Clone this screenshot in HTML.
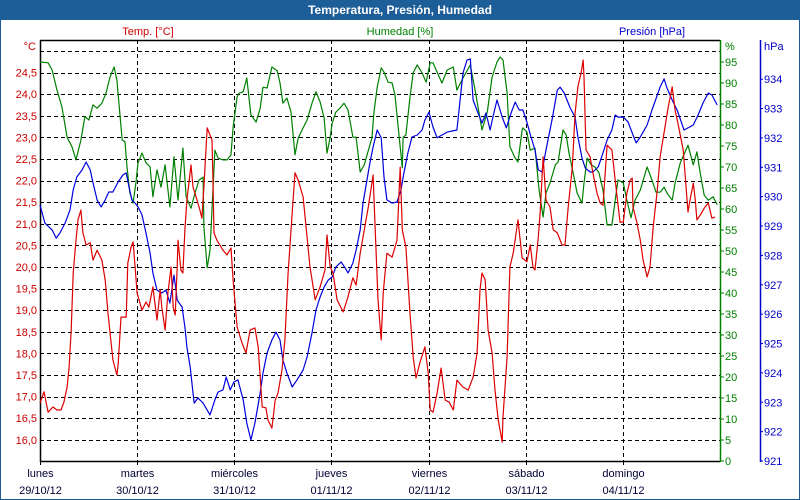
<!DOCTYPE html>
<html><head><meta charset="utf-8">
<style>
html,body{margin:0;padding:0;background:#fff;}
#wrap{position:relative;width:800px;height:500px;overflow:hidden;font-family:"Liberation Sans",sans-serif;}
svg text{font-family:"Liberation Sans",sans-serif;font-size:11px;}
</style></head>
<body>
<div id="wrap">
<svg id="chart" width="800" height="500" viewBox="0 0 800 500">
  <rect x="0" y="0" width="800" height="500" fill="#ffffff" stroke="#1b5c96" stroke-width="2"/>
  <rect x="0" y="0" width="800" height="20" fill="#1e5e98"/>
  <text x="400" y="14" text-anchor="middle" fill="#ffffff" font-weight="bold" style="font-size:12px">Temperatura, Presión, Humedad</text>
  <text x="148" y="35" text-anchor="middle" fill="#cc0000">Temp. [°C]</text>
  <text x="400" y="35" text-anchor="middle" fill="#008000">Humedad [%]</text>
  <text x="652" y="35" text-anchor="middle" fill="#0000cc">Presión [hPa]</text>
  <text x="36" y="50" text-anchor="end" fill="#cc0000">°C</text>
  <text x="725" y="50" fill="#008000">%</text>
  <text x="764" y="50" fill="#0000cc">hPa</text>
  <g id="grid"></g><g id="axes"></g><g id="series"></g>
</svg>
</div>
<script>
const dayNames = ["lunes","martes","miércoles","jueves","viernes","sábado","domingo"];
const dayDates = ["29/10/12","30/10/12","31/10/12","01/11/12","02/11/12","03/11/12","04/11/12"];
const tempTicks = [24.5,24.0,23.5,23.0,22.5,22.0,21.5,21.0,20.5,20.0,19.5,19.0,18.5,18.0,17.5,17.0,16.5,16.0];
const humTicks = [0,5,10,15,20,25,30,35,40,45,50,55,60,65,70,75,80,85,90,95];
const presTicks = [921,922,923,924,925,926,927,928,929,930,931,932,933,934];

const tempHours = [0,1.0,2.0,3.2,4.2,5.2,5.9,6.7,7.2,7.7,8.2,8.9,9.4,10.1,10.6,11.4,12.4,13.1,14.1,15.3,16.1,16.8,17.5,18.0,19.0,19.3,20.0,21.3,21.7,22.5,23.0,23.5,24.0,25.2,26.2,26.9,27.9,28.9,29.7,30.1,30.9,31.6,32.4,32.9,33.4,33.9,34.1,34.8,35.3,35.8,36.3,37.3,37.8,38.8,39.5,40.0,40.5,41.3,41.8,42.5,42.7,43.0,43.7,45.2,46.2,47.2,47.7,48.7,49.9,50.9,51.9,53.1,53.9,54.9,55.8,56.3,57.3,58.1,58.8,59.8,60.5,61.3,62.3,63.0,63.8,65.0,66.7,68.0,69.2,70.4,70.9,71.7,72.4,73.4,74.9,76.1,77.3,78.1,79.1,79.8,81.1,82.3,82.8,83.5,84.3,84.8,85.7,87.0,88.2,89.0,89.5,90.4,91.4,92.2,92.9,93.9,95.1,95.9,96.4,97.1,98.1,99.1,100.1,101.1,102.1,103.0,104.5,105.8,107.0,108.0,108.7,109.2,110.0,110.7,111.7,112.4,113.2,114.2,114.4,115.4,116.1,116.9,118.1,119.1,120.3,121.1,121.8,122.3,123.1,123.6,124.3,125.0,126.0,126.8,127.8,129.0,129.7,130.5,131.5,132.2,132.9,133.7,134.2,134.4,134.9,135.9,136.6,137.6,138.4,139.1,140.1,141.3,142.1,143.3,144.1,145.0,145.8,146.3,146.5,147.5,148.3,149.0,150.0,150.7,151.5,152.5,153.2,154.4,155.2,156.2,156.9,157.6,158.9,160.1,160.6,161.4,161.9,162.3,163.1,164.3,165.1,166.0,166.8];
const tempValues = [16.85,17.11,16.64,16.76,16.69,16.69,16.87,17.22,17.68,18.54,19.86,20.62,21.09,21.32,20.79,20.51,20.56,20.16,20.39,20.16,19.70,18.93,18.31,17.85,17.50,17.73,18.84,18.84,20.09,20.46,20.58,20.00,19.40,19.00,19.19,19.07,19.54,18.77,19.47,19.07,18.54,19.40,20.00,19.07,18.89,20.00,20.62,19.93,19.86,20.86,21.55,22.36,21.85,21.55,21.32,21.13,21.85,23.22,23.10,22.94,22.18,20.79,20.62,20.39,20.28,20.44,19.70,18.61,18.24,18.01,18.54,18.59,18.15,16.76,16.74,16.46,16.27,16.92,17.08,17.62,18.31,19.86,21.25,22.18,22.01,21.62,20.00,19.24,19.54,19.93,20.74,20.00,19.86,19.24,18.96,19.31,19.75,19.58,20.32,20.69,21.39,22.13,20.93,19.24,18.31,19.40,20.32,20.23,20.62,22.31,20.86,20.46,18.93,17.92,17.43,17.80,18.15,17.55,16.69,16.64,17.08,17.66,16.92,16.87,16.69,17.38,17.22,17.15,17.45,18.01,19.47,19.86,19.70,18.54,18.01,17.15,16.46,15.95,16.53,17.92,20.00,20.32,21.09,20.21,20.12,20.51,20.00,19.93,20.69,21.32,22.55,21.55,21.39,20.86,20.79,20.51,20.51,21.39,22.31,23.56,24.17,24.51,24.79,24.40,22.71,22.55,22.18,21.71,21.48,21.43,22.82,22.71,22.01,21.04,21.04,21.71,22.01,22.06,21.39,21.02,20.62,20.16,19.77,20.00,20.93,21.78,22.55,23.24,23.70,24.17,23.63,23.33,22.71,21.27,21.55,21.94,21.55,21.09,21.20,21.39,21.48,21.13,21.16];

const humHours = [0,2.0,3.0,4.2,5.4,6.7,7.9,8.9,10.1,11.1,12.1,13.1,14.1,15.3,16.3,17.3,18.3,19.0,19.8,20.3,21.0,21.5,22.2,23.0,23.7,24.2,25.2,26.2,27.2,27.9,28.9,29.9,30.9,32.1,33.1,34.1,35.3,36.1,37.3,38.3,39.3,40.3,40.5,41.3,42.0,42.7,43.2,44.0,45.2,46.2,47.2,47.7,48.7,49.2,50.2,51.1,52.1,53.4,54.4,55.1,56.1,57.3,58.6,59.3,60.0,61.0,62.0,63.0,63.8,65.0,66.0,67.2,68.2,69.2,70.2,70.9,71.7,72.2,73.1,74.1,75.1,76.1,77.3,78.1,79.1,80.1,81.0,82.0,82.5,83.3,84.3,85.0,86.0,87.0,87.7,88.7,89.5,89.7,90.4,91.4,92.2,93.2,94.4,95.4,96.4,97.1,99.3,100.6,102.1,103.0,104.5,106.3,107.5,109.2,110.5,111.7,112.9,113.7,114.4,115.4,116.1,117.4,118.1,119.1,119.3,120.3,121.1,122.3,123.3,124.3,125.0,126.0,127.3,128.0,129.2,130.0,130.7,131.7,132.7,133.9,134.4,135.2,136.2,137.1,138.1,139.1,140.1,141.3,142.1,142.8,144.1,145.0,146.0,147.0,148.3,150.0,151.2,152.2,153.2,154.2,154.9,156.2,156.9,158.2,160.1,161.4,162.3,163.1,164.1,165.1,166.3,167.3];
const humValues = [95.0,94.8,93.1,88.3,84.3,77.1,74.8,71.7,76.4,82.0,81.2,84.8,84.0,85.2,87.6,91.4,93.8,90.7,82.0,76.4,76.0,70.0,63.8,61.4,66.2,71.0,73.3,71.0,70.0,62.9,69.3,65.2,70.5,60.5,72.4,62.1,74.5,62.9,60.2,63.8,66.9,67.6,55.7,46.0,50.2,63.8,74.0,72.1,71.7,71.7,72.9,79.5,86.7,87.6,87.9,91.2,82.4,80.7,84.0,89.0,88.8,93.8,92.9,90.0,85.2,86.4,83.1,72.9,76.9,79.3,81.2,85.2,87.9,85.5,81.7,73.3,77.1,80.5,83.1,84.0,85.2,83.6,77.1,77.1,68.8,70.5,73.6,76.9,82.9,89.0,93.6,92.6,90.2,90.0,87.1,77.6,69.8,77.1,77.6,86.7,92.4,94.3,92.4,90.2,94.8,94.8,90.0,93.1,93.8,88.3,91.2,94.3,88.3,78.8,83.1,91.4,95.0,96.2,95.5,87.6,74.8,72.1,71.2,78.8,79.3,78.3,74.0,74.5,64.5,58.1,63.8,66.2,70.5,71.2,78.8,77.6,73.3,68.6,63.8,61.4,66.2,72.1,70.5,70.0,68.6,64.5,56.2,56.2,62.1,66.9,66.2,62.1,57.9,62.1,64.5,70.0,66.9,64.0,64.0,65.2,63.8,62.1,66.2,71.0,75.2,70.5,73.6,68.6,63.3,62.1,62.9,61.0];

const presHours = [0,1.2,3.0,4.0,4.9,6.2,7.4,8.2,9.1,10.4,11.4,12.4,13.1,14.1,15.1,16.1,17.0,18.0,19.3,20.5,21.3,22.0,22.7,23.5,24.2,25.2,26.2,27.2,27.9,28.9,30.1,31.1,32.1,33.1,33.9,35.1,35.8,36.3,37.1,37.8,38.1,39.0,40.3,42.0,43.2,44.0,45.2,46.0,47.0,47.9,48.9,50.2,51.1,52.1,53.1,54.4,55.1,56.1,57.3,58.3,59.3,60.0,61.0,62.3,63.5,65.0,66.0,67.2,68.2,69.2,70.2,71.2,72.2,73.1,74.4,75.4,76.1,77.3,78.1,79.1,79.8,80.8,81.5,82.3,83.3,84.3,85.0,85.7,87.0,88.2,89.2,89.9,90.9,91.9,93.2,94.4,95.1,96.1,97.1,98.1,99.3,100.6,103.0,103.8,104.5,105.5,106.3,107.0,108.2,109.2,110.2,111.2,111.9,112.9,114.2,115.2,116.4,117.4,118.4,119.3,120.3,121.3,122.3,123.1,124.0,125.0,126.5,127.8,128.5,129.5,131.0,132.2,132.9,133.9,134.7,135.9,136.6,137.9,139.1,140.1,141.3,142.1,142.8,144.1,145.3,146.5,147.3,148.3,149.0,150.0,151.2,152.5,153.2,154.2,154.9,156.2,157.4,158.1,159.1,160.1,161.4,162.6,163.8,165.1,166.0,167.3];
const presValues = [929.72,929.10,928.87,928.59,928.76,929.10,929.55,930.23,930.67,930.91,931.18,930.91,930.47,929.89,929.65,929.89,930.16,930.16,930.50,930.74,930.81,930.33,929.89,929.78,929.65,929.38,928.76,928.08,927.40,926.82,926.72,926.82,926.38,927.33,926.48,926.24,925.56,924.88,924.20,923.32,922.97,923.15,922.97,922.57,923.08,923.35,923.42,923.86,923.42,923.69,923.76,923.08,922.29,921.72,922.29,923.32,924.00,924.68,925.12,925.39,925.12,924.44,924.00,923.52,923.76,924.10,924.54,925.36,926.14,926.58,926.92,927.16,927.27,927.61,927.78,927.57,927.40,927.74,928.18,928.87,929.78,930.57,931.15,931.69,932.27,932.00,930.67,929.89,929.78,929.82,930.23,930.81,931.49,932.03,932.10,932.27,932.61,932.88,932.37,932.00,932.10,932.20,932.27,933.29,934.21,934.65,934.69,933.29,932.85,932.51,932.85,932.27,932.71,933.29,932.71,932.34,932.85,933.22,932.95,932.95,932.54,932.03,931.59,930.91,930.84,931.59,932.61,933.63,933.73,933.53,933.02,932.71,932.03,931.32,930.98,930.84,930.84,931.01,931.49,931.93,932.27,932.78,932.71,932.71,932.54,932.10,931.83,932.03,932.20,932.44,932.95,933.46,933.73,934.01,933.70,933.29,932.95,932.68,932.27,932.34,932.44,932.78,933.19,933.53,933.46,933.12];

const NS = "http://www.w3.org/2000/svg";
const L = 40, R = 720, T = 40, B = 461;
function xScale(h){ return L + h * (R - L) / 168; }
function yTemp(t){ return 51 + (25 - t) * 43.2; }
function yHum(v){ return 461 - v * 4.2; }
function yPres(p){ return 461 - (p - 921) * 29.37; }
function mk(tag, attrs, parent){
  const e = document.createElementNS(NS, tag);
  for (const k in attrs) e.setAttribute(k, attrs[k]);
  parent.appendChild(e);
  return e;
}
const grid = document.getElementById('grid');
const axes = document.getElementById('axes');
const series = document.getElementById('series');

// horizontal grid lines (temperature based, 25.0..16.0)
const gridTemps = [25.0].concat(tempTicks);
gridTemps.forEach(t => {
  const y = Math.round(yTemp(t)) + 0.5;
  const ln = mk('line', {x1:L, x2:R, y1:y, y2:y, stroke:'#000', 'stroke-width':1, 'stroke-dasharray':'4,3'}, grid);
  
  
});
// vertical day gridlines & x labels
dayNames.forEach((d, i) => {
  const x = Math.round(xScale(i * 24)) + 0.5;
  if (i > 0) {
    const ln = mk('line', {x1:x, x2:x, y1:T, y2:B, stroke:'#000', 'stroke-width':1, 'stroke-dasharray':'4,3'}, grid);
    
    
  }
  const tk = mk('line', {x1:x, x2:x, y1:B, y2:B+4, stroke:'#000'}, axes);
  
  
  const t1 = mk('text', {x:x, y:477, 'text-anchor':'middle', fill:'#000033'}, axes);
  t1.textContent = d;
  
  
  const t2 = mk('text', {x:x, y:494, 'text-anchor':'middle', fill:'#000033'}, axes);
  t2.textContent = dayDates[i];
  
  
});
// frame lines
[[L+0.5,T,L+0.5,B+1],[L,T+0.5,R,T+0.5],[L,B+0.5,R,B+0.5]].forEach(c => {
  const ln = mk('line', {x1:c[0], y1:c[1], x2:c[2], y2:c[3], stroke:'#000', 'stroke-width':1.5}, axes);
  
  
});
// temp tick labels
tempTicks.forEach(t => {
  const tx = mk('text', {x:37, y:yTemp(t)+4, 'text-anchor':'end', fill:'#cc0000'}, axes);
  tx.textContent = t.toFixed(1).replace('.', ',');
  
  
});
// humidity axis
const ha = mk('line', {x1:R+0.5, x2:R+0.5, y1:T, y2:B+1, stroke:'#008000', 'stroke-width':1.5}, axes);


humTicks.forEach(v => {
  const y = yHum(v);
  const tk = mk('line', {x1:R, x2:R+4, y1:y, y2:y, stroke:'#008000'}, axes);
  
  
  const tx = mk('text', {x:R+5, y:y+4, fill:'#008000'}, axes);
  tx.textContent = v;
  
  
});
// pressure axis
const pa = mk('line', {x1:760.5, x2:760.5, y1:T, y2:B+1, stroke:'#0000cc', 'stroke-width':1.5}, axes);


presTicks.forEach(p => {
  const y = yPres(p);
  const tk = mk('line', {x1:760, x2:763, y1:y, y2:y, stroke:'#0000cc'}, axes);
  
  
  const tx = mk('text', {x:764, y:y+4, fill:'#0000cc'}, axes);
  tx.textContent = p;
  
  
});
// series
function drawLine(hours, vals, yf, color, name){
  const pts = hours.map((h, i) => xScale(h).toFixed(1) + ',' + yf(vals[i]).toFixed(1)).join(' ');
  const pl = mk('polyline', {points:pts, fill:'none', stroke:color, 'stroke-width':1.2, 'stroke-linejoin':'round'}, series);
  
  
}
drawLine(humHours, humValues, yHum, '#008000', 'humidity-line');
drawLine(presHours, presValues, yPres, '#0000dd', 'pressure-line');
drawLine(tempHours, tempValues, yTemp, '#dd0000', 'temperature-line');
</script>
</body></html>
